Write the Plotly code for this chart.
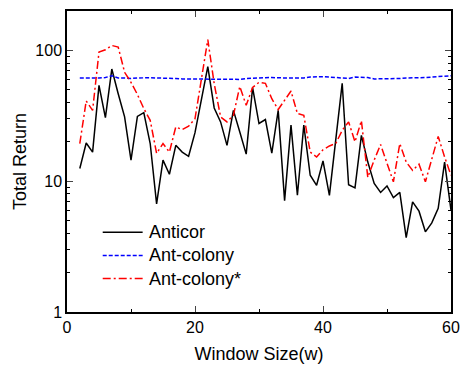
import plotly.graph_objects as go

window = list(range(2, 61))

anticor = [12.5, 19.6, 16.7, 54, 30.6, 72, 46.6, 31, 14.5, 31.3,
           33.4, 19.4, 6.7, 14.5, 11.3, 18.8, 16.7, 15.5, 23.5, 41.5,
           75, 36.3, 28.4, 18.8, 34.8, 23.8, 16.1, 51.9, 27.6, 29.6,
           16.4, 34.8, 7.1, 26.8, 7.8, 26.8, 11.1, 9.3, 14.3, 7.8,
           21, 56, 9.4, 8.9, 22.4, 14, 9.6, 8.2, 9.2, 7.5,
           8.2, 3.7, 6.95, 5.9, 4.1, 4.8, 6.2, 14, 6.0]

ant_colony = [61.5, 61.8, 61.5, 61.5, 62, 64,
              61.5, 61.5, 61, 61.5, 61.8, 61.8, 61.5, 61.5, 61.5, 61, 60.5, 60.5,
              60, 60, 60.5, 60, 60, 60.2, 60.5, 60, 61,
              61.5, 61.5, 61.8, 62, 61.5, 61.5, 61.5, 61.5, 61.5, 62.5,
              63, 63, 62.5, 62, 61, 61,
              62.5, 62.5, 62,
              60.5, 60.5, 60.4, 60.5, 61,
              61.5, 61.5, 61.5, 62,
              62.5, 63, 63, 64]

ant_colony_star = [19.4, 41, 34.8, 97, 101, 109, 106, 68, 57, 46,
                   35.9, 29.2, 16.3, 19.4, 16.7, 26, 24.8, 26.3, 30, 58,
                   121, 55.7, 31, 28.4, 31.9, 53, 38, 52, 57, 56,
                   42.7, 35.3, 41.5, 48.9, 32.9, 31.9, 16.7, 15.3, 17.4, 18.6,
                   19.4, 24.5, 28.4, 20, 29, 10.7, 14.5, 19.1, 13.7, 9.9,
                   19.4, 14, 12.1, 13.5, 9.9, 14.7, 22, 15.3, 11.1]

series_names = ["Anticor", "Ant-colony", "Ant-colony*"]
series_colors = ["black", "#0000FF", "#FF0000"]
series_dash = ["solid", "4px,2px", "8px,3px,2px,3px"]

x_ticks = [0, 20, 40, 60]
y_ticks = [1, 10, 100]
y_ticktext = ["1", "10", "100"]
y_minor = [2, 3, 4, 5, 6, 7, 8, 9, 20, 30, 40, 50, 60, 70, 80, 90, 200]

FONT = "Liberation Sans, Arial, sans-serif"

fig = go.Figure()
for name, vals, col, dash in zip(series_names, [anticor, ant_colony, ant_colony_star],
                                 series_colors, series_dash):
    fig.add_trace(go.Scatter(x=window, y=vals, mode="lines", name=name,
                             line=dict(color=col, width=1.5, dash=dash),
                             showlegend=False))

# Legend drawn as line samples + text labels (paper coordinates)
legend_rows_y = [0.265, 0.188, 0.111]
for name, col, dash, yy in zip(series_names, series_colors, series_dash, legend_rows_y):
    fig.add_shape(type="line", xref="paper", yref="paper",
                  x0=0.093, x1=0.197, y0=yy, y1=yy,
                  line=dict(color=col, width=1.5, dash=dash))
    fig.add_annotation(xref="paper", yref="paper", x=0.209, y=yy,
                       text=name, showarrow=False, xanchor="left", yanchor="middle",
                       font=dict(size=18, family=FONT, color="black"))

fig.update_layout(
    width=461, height=369,
    margin=dict(l=67, r=10, t=11, b=57, autoexpand=False),
    paper_bgcolor="white", plot_bgcolor="white",
    font=dict(family=FONT, color="black", size=16),
    showlegend=False,
)
fig.update_xaxes(
    range=[0, 60], tickvals=x_ticks, ticks="inside", ticklen=6, tickwidth=1,
    showgrid=False, zeroline=False, showline=True, linecolor="black", linewidth=1.5,
    mirror="ticks", automargin=False,
    minor=dict(tickvals=[10, 30, 50], ticks="inside", ticklen=3, tickcolor="black"),
    title=dict(text="Window Size(w)", font=dict(size=18, family=FONT), standoff=12),
    tickfont=dict(size=16, family=FONT),
)
fig.update_yaxes(
    type="log", range=[0, 2.30103], tickvals=y_ticks, ticktext=y_ticktext,
    ticks="inside", ticklen=6, tickwidth=1,
    showgrid=False, zeroline=False, showline=True, linecolor="black", linewidth=1.5,
    mirror="ticks", automargin=False,
    minor=dict(tickvals=y_minor, ticks="inside", ticklen=3, tickcolor="black"),
    title=dict(text="Total Return", font=dict(size=18, family=FONT), standoff=4),
    tickfont=dict(size=16, family=FONT),
)

fig.write_html(
    "out.html",
    config={"displayModeBar": False},
    post_script="document.body.style.margin='0';document.body.style.overflow='hidden';",
)
